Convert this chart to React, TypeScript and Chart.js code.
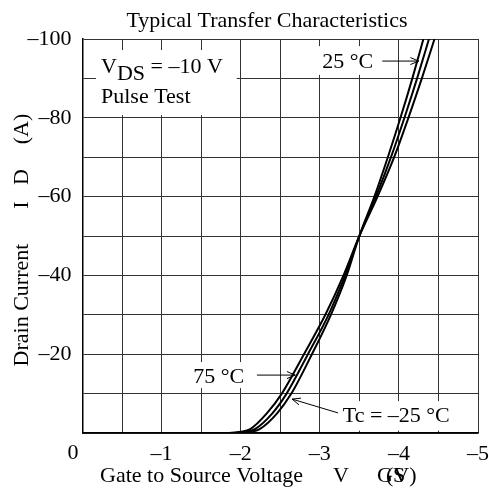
import React, { useEffect, useRef } from "react";
import { Chart, registerables } from "chart.js";

Chart.register(...registerables);

// Drain current levels (A) at which each curve's gate voltage was read
const drainCurrent = [0, 0, -0.3, -1, -5, -10, -20, -30, -40, -50, -60, -70, -80, -90, -100];
// Gate-to-source voltage (V) per temperature
const vgsTcMinus25 = [0, -2.0, -2.12, -2.24, -2.46, -2.64, -2.9, -3.14, -3.34, -3.5, -3.69, -3.86, -4.02, -4.17, -4.31];
const vgsTc25 = [0, -1.92, -2.05, -2.18, -2.4, -2.58, -2.85, -3.11, -3.32, -3.5, -3.71, -3.9, -4.07, -4.23, -4.38];
const vgsTc75 = [0, -1.85, -2.0, -2.12, -2.33, -2.52, -2.8, -3.07, -3.3, -3.5, -3.73, -3.94, -4.12, -4.29, -4.45];

const xLabelValues = [-1, -2, -3, -4, -5];
const yLabelValues = [-20, -40, -60, -80, -100];

const FONT = '"Liberation Serif", "Times New Roman", Times, serif';
const FS = 22;

const dash = (v: number) => "\u2013" + Math.abs(v);

const toPoints = (xs: number[]) => xs.map((x, i) => ({ x, y: drainCurrent[i] }));

const annotPlugin = {
  id: "annot",
  beforeDatasetsDraw(chart: any) {
    const { ctx } = chart;
    const xs = chart.scales.x;
    const ys = chart.scales.y;
    const X = (v: number) => xs.getPixelForValue(v);
    const Y = (v: number) => ys.getPixelForValue(v);
    ctx.save();
    // white boxes behind labels
    const boxes = [
      [-0.17, -97.2, -1.95, -80.7],
      [-2.98, -98.2, -3.71, -90.9],
      [-1.36, -18.0, -2.12, -11.4],
      [-3.26, -8.1, -4.72, -0.6],
    ];
    ctx.fillStyle = "#fff";
    boxes.forEach(([x0, y0, x1, y1]) => {
      ctx.fillRect(X(x0), Y(y0), X(x1) - X(x0), Y(y1) - Y(y0));
    });
    ctx.fillStyle = "#000";
    ctx.font = `${FS}px ${FONT}`;
    ctx.textAlign = "left";
    ctx.textBaseline = "alphabetic";
    // V_DS = -10 V
    let px = X(-0.234);
    const by = Y(-91.4);
    ctx.fillText("V", px, by);
    px += ctx.measureText("V").width;
    ctx.fillText("DS", px, by + 7);
    px += ctx.measureText("DS").width;
    ctx.fillText(" = \u201310 V", px, by);
    ctx.fillText("Pulse Test", X(-0.234), Y(-83.8));
    ctx.fillText("25 \u00b0C", X(-3.03), Y(-92.6));
    ctx.fillText("75 \u00b0C", X(-1.4), Y(-12.7));
    ctx.fillText("Tc = \u201325 \u00b0C", X(-3.29), Y(-2.8));

    const arrow = (x0: number, y0: number, x1: number, y1: number) => {
      const ax = X(x0), ay = Y(y0), bx = X(x1), byy = Y(y1);
      ctx.strokeStyle = "#000";
      ctx.lineWidth = 1;
      ctx.beginPath();
      ctx.moveTo(ax, ay);
      ctx.lineTo(bx, byy);
      const ang = Math.atan2(byy - ay, bx - ax);
      const L = 9, a = 0.4;
      ctx.moveTo(bx - L * Math.cos(ang - a), byy - L * Math.sin(ang - a));
      ctx.lineTo(bx, byy);
      ctx.lineTo(bx - L * Math.cos(ang + a), byy - L * Math.sin(ang + a));
      ctx.stroke();
    };
    arrow(-3.79, -94.4, -4.25, -94.4);
    arrow(-2.205, -14.7, -2.69, -14.7);
    arrow(-3.23, -5.1, -2.65, -8.6);
    ctx.restore();
  },
  afterDraw(chart: any) {
    const { ctx } = chart;
    const xs = chart.scales.x;
    const ys = chart.scales.y;
    ctx.save();
    ctx.fillStyle = "#000";
    ctx.font = `${FS}px ${FONT}`;
    // title
    ctx.textAlign = "center";
    ctx.textBaseline = "alphabetic";
    ctx.fillText("Typical Transfer Characteristics", 267, 27);
    // origin label
    ctx.textAlign = "right";
    ctx.textBaseline = "middle";
    ctx.fillText("0", xs.getPixelForValue(0) - 4, ys.getPixelForValue(0) + 20);
    // x axis title
    ctx.textAlign = "left";
    ctx.textBaseline = "alphabetic";
    ctx.fillText("Gate to Source Voltage", 100, 482);
    ctx.fillText("V", 333, 482);
    ctx.fillText("GS", 377, 482);
    ctx.fillText("(V)", 386, 482);
    // y axis title
    ctx.translate(28, 0);
    ctx.rotate(-Math.PI / 2);
    ctx.textAlign = "center";
    ctx.fillText("Drain Current", -305, 0);
    ctx.fillText("I", -205, 0);
    ctx.fillText("D", -177, 0);
    ctx.fillText("(A)", -129, 0);
    ctx.restore();
  },
};

export default function App() {
  const ref = useRef<HTMLCanvasElement | null>(null);
  useEffect(() => {
    if (!ref.current) return;
    const line = (data: number[]) => ({
      data: toPoints(data),
      borderColor: "#000",
      borderWidth: 2,
      pointRadius: 0,
      fill: false,
      cubicInterpolationMode: "monotone" as const,
    });
    const chart = new Chart(ref.current, {
      type: "line",
      data: {
        datasets: [
          { label: "Tc = -25 °C", ...line(vgsTcMinus25) },
          { label: "25 °C", ...line(vgsTc25) },
          { label: "75 °C", ...line(vgsTc75) },
        ],
      },
      options: {
        responsive: false,
        animation: false,
        layout: { padding: { top: 39, right: 11, left: 0, bottom: 0 } },
        plugins: {
          legend: { display: false },
          tooltip: { enabled: false },
          title: { display: false },
        },
        scales: {
          x: {
            type: "linear",
            min: -5,
            max: 0,
            reverse: true,
            afterFit: (s: any) => {
              s.height = 60;
              s.paddingLeft = 0;
              s.paddingRight = 0;
            },
            ticks: {
              stepSize: 0.5,
              autoSkip: false,
              maxRotation: 0,
              padding: 8,
              color: "#000",
              font: { family: FONT, size: FS },
              callback: (v: any) => (xLabelValues.includes(Number(v)) ? dash(Number(v)) : ""),
            },
            grid: { color: "#333", lineWidth: 1, drawTicks: false },
            border: { display: true, color: "#000", width: 1.5 },
          },
          y: {
            type: "linear",
            min: -100,
            max: 0,
            reverse: true,
            afterFit: (s: any) => {
              s.width = 82.5;
              s.paddingTop = 0;
              s.paddingBottom = 0;
            },
            ticks: {
              stepSize: 10,
              autoSkip: false,
              padding: 11,
              color: "#000",
              font: { family: FONT, size: FS },
              callback: (v: any) => (yLabelValues.includes(Number(v)) ? dash(Number(v)) : ""),
            },
            grid: { color: "#333", lineWidth: 1, drawTicks: false },
            border: { display: true, color: "#000", width: 1.5 },
          },
        },
      },
      plugins: [annotPlugin],
    });
    return () => chart.destroy();
  }, []);
  return (
    <div style={{ position: "absolute", left: 0, top: 0, width: 489, height: 493, background: "#fff" }}>
      <canvas ref={ref} width={489} height={493} style={{ display: "block" }} />
    </div>
  );
}
